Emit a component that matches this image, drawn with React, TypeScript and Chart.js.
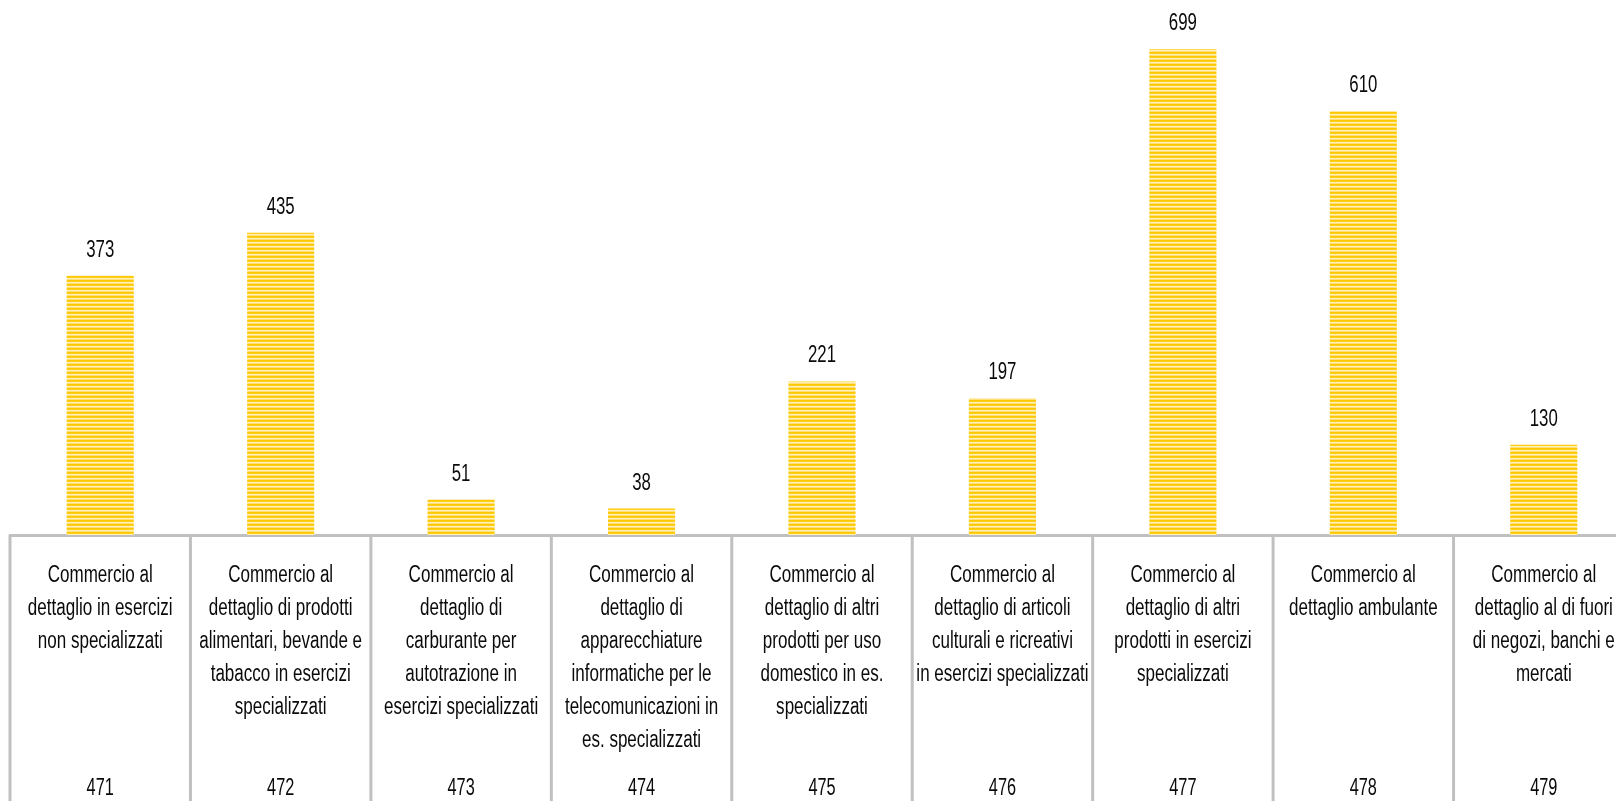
import React, { useEffect, useRef } from "react";
import { Chart, registerables } from "chart.js";

Chart.register(...registerables);

const codes: string[] = ["471", "472", "473", "474", "475", "476", "477", "478", "479"];
const categoryLabels: string[][] = [
  ["Commercio al", "dettaglio in esercizi", "non specializzati"],
  ["Commercio al", "dettaglio di prodotti", "alimentari, bevande e", "tabacco in esercizi", "specializzati"],
  ["Commercio al", "dettaglio di", "carburante per", "autotrazione in", "esercizi specializzati"],
  ["Commercio al", "dettaglio di", "apparecchiature", "informatiche per le", "telecomunicazioni in", "es. specializzati"],
  ["Commercio al", "dettaglio di altri", "prodotti per uso", "domestico in es.", "specializzati"],
  ["Commercio al", "dettaglio di articoli", "culturali e ricreativi", "in esercizi specializzati"],
  ["Commercio al", "dettaglio di altri", "prodotti in esercizi", "specializzati"],
  ["Commercio al", "dettaglio ambulante"],
  ["Commercio al", "dettaglio al di fuori", "di negozi, banchi e", "mercati"],
];
const values: number[] = [373, 435, 51, 38, 221, 197, 699, 610, 130];

const FONT = '"Liberation Sans", Arial, sans-serif';
const GRID = "#c0c0c0";
const TEXT = "#0a0a0a";

function makePattern(ctx: CanvasRenderingContext2D): CanvasPattern | string {
  const c = document.createElement("canvas");
  c.width = 4;
  c.height = 4;
  const p = c.getContext("2d");
  if (!p) return "#ffcc00";
  const rows = ["#ffc700", "#ffcf1a", "#fff0b8", "#ffe07a"];
  rows.forEach((col, i) => {
    p.fillStyle = col;
    p.fillRect(0, i, 4, 1);
  });
  return ctx.createPattern(c, "repeat") || "#ffcc00";
}

function drawNarrow(ctx: CanvasRenderingContext2D, text: string, x: number, y: number, sx: number) {
  ctx.save();
  ctx.translate(x, y);
  ctx.scale(sx, 1);
  ctx.fillText(text, 0, 0);
  ctx.restore();
}

const decorPlugin = {
  id: "decor",
  afterDraw(chart: any) {
    const ctx: CanvasRenderingContext2D = chart.ctx;
    const x = chart.scales.x;
    const area = chart.chartArea;
    const n = codes.length;
    const step = (area.right - area.left) / n;
    ctx.save();
    // dividers
    ctx.strokeStyle = GRID;
    ctx.lineWidth = 3;
    for (let i = 0; i <= n; i++) {
      const px = i < n ? x.getPixelForValue(i) - step / 2 : x.getPixelForValue(n - 1) + step / 2;
      ctx.beginPath();
      ctx.moveTo(px, area.bottom);
      ctx.lineTo(px, chart.height);
      ctx.stroke();
    }
    ctx.fillStyle = TEXT;
    ctx.textAlign = "center";
    ctx.textBaseline = "alphabetic";
    ctx.font = `23px ${FONT}`;
    // category labels
    categoryLabels.forEach((lines, i) => {
      const cx = x.getPixelForValue(i);
      lines.forEach((line, j) => {
        drawNarrow(ctx, line, cx, area.bottom + 47 + j * 33, 0.74);
      });
    });
    // codes
    ctx.font = `24px ${FONT}`;
    codes.forEach((c, i) => {
      drawNarrow(ctx, c, x.getPixelForValue(i), 795, 0.68);
    });
    // value labels
    const meta = chart.getDatasetMeta(0);
    meta.data.forEach((bar: any, i: number) => {
      drawNarrow(ctx, String(values[i]), bar.x, bar.y - 19, 0.7);
    });
    ctx.restore();
  },
};

export default function App() {
  const ref = useRef<HTMLCanvasElement | null>(null);
  useEffect(() => {
    const canvas = ref.current;
    if (!canvas) return;
    const ctx = canvas.getContext("2d");
    if (!ctx) return;
    const pattern = makePattern(ctx);
    const chart = new Chart(canvas, {
      type: "bar",
      data: {
        labels: codes,
        datasets: [
          {
            data: values,
            backgroundColor: pattern as any,
            borderWidth: 0,
            categoryPercentage: 1,
            barPercentage: 0.372,
          },
        ],
      },
      options: {
        responsive: false,
        animation: false,
        devicePixelRatio: 1,
        layout: { padding: { left: 10, right: 10, top: 0, bottom: 0 } },
        plugins: { legend: { display: false }, tooltip: { enabled: false } },
        scales: {
          x: {
            grid: { display: false, drawTicks: false },
            border: { display: true, color: GRID, width: 3 },
            ticks: { display: false },
            afterFit(scale: any) {
              scale.height = 266;
              scale.paddingLeft = 0;
              scale.paddingRight = 0;
            },
          },
          y: {
            display: false,
            min: 0,
            max: 770,
          },
        },
      },
      plugins: [decorPlugin],
    });
    return () => chart.destroy();
  }, []);
  return (
    <div style={{ position: "absolute", left: 0, top: 0, width: 1616, height: 801, overflow: "hidden", background: "#fff" }}>
      <canvas ref={ref} width={1644} height={801} style={{ display: "block" }} />
    </div>
  );
}
